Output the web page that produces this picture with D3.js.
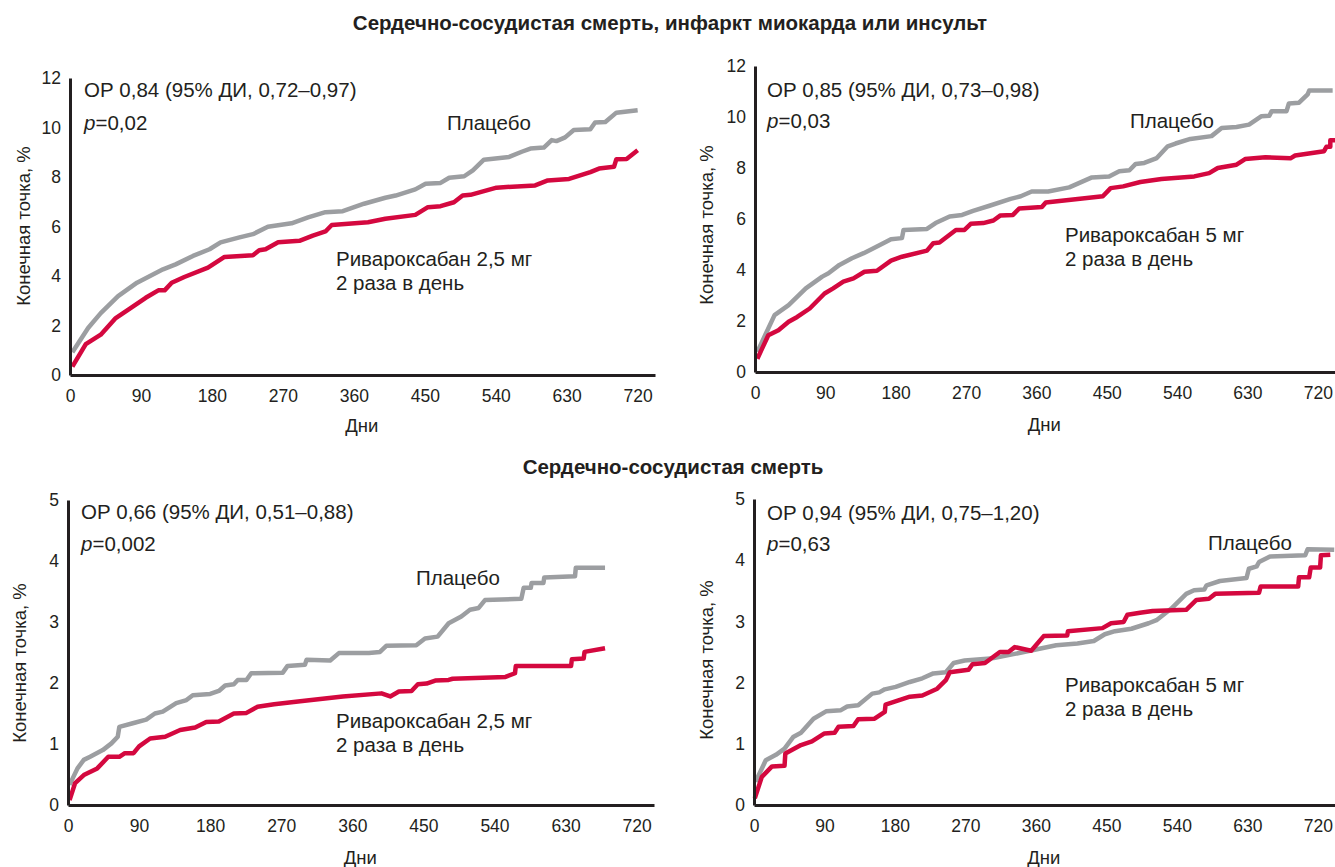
<!DOCTYPE html>
<html><head><meta charset="utf-8">
<script src="https://cdn.jsdelivr.net/npm/d3@7"></script>
<style>
html,body{margin:0;padding:0;background:#fff;}
svg{display:block;}
text{font-family:"Liberation Sans",Arial,sans-serif;fill:#231f20;}
</style></head><body>
<svg id="chart" width="1335" height="867"></svg>
<script>
// ---- Data ----
const dayTicks = [0, 90, 180, 270, 360, 450, 540, 630, 720];
const yTicksTop = [0, 2, 4, 6, 8, 10, 12];
const yTicksBottom = [0, 1, 2, 3, 4, 5];

const titleTop = "Сердечно-сосудистая смерть, инфаркт миокарда или инсульт";
const titleBottom = "Сердечно-сосудистая смерть";
const yLabel = "Конечная точка, %";
const xLabel = "Дни";
const placeboLabel = "Плацебо";
const riva25Label = ["Ривароксабан 2,5 мг", "2 раза в день"];
const riva5Label = ["Ривароксабан 5 мг", "2 раза в день"];
const hrLabels = ["ОР 0,84 (95% ДИ, 0,72–0,97)", "ОР 0,85 (95% ДИ, 0,73–0,98)", "ОР 0,66 (95% ДИ, 0,51–0,88)", "ОР 0,94 (95% ДИ, 0,75–1,20)"];
const pLabels = ["=0,02", "=0,03", "=0,002", "=0,63"];

// [day, percent]
const p1Placebo = [[3,0.92],[23,1.9],[39,2.5],[61,3.19],[85,3.73],[118,4.27],[134,4.47],[156,4.81],[177,5.08],[191,5.36],[215,5.56],[232,5.69],[251,5.99],[281,6.13],[302,6.37],[324,6.58],[346,6.62],[373,6.92],[400,7.16],[413,7.25],[438,7.5],[451,7.73],[470,7.76],[481,7.97],[500,8.03],[511,8.27],[525,8.7],[557,8.81],[573,9.02],[584,9.15],[601,9.19],[611,9.49],[617,9.45],[628,9.6],[639,9.9],[660,9.93],[666,10.2],[679,10.22],[693,10.6],[720,10.7]];
const p1Riva = [[3,0.34],[20,1.25],[39,1.63],[58,2.3],[74,2.64],[96,3.12],[112,3.42],[120,3.42],[129,3.73],[145,3.96],[175,4.34],[196,4.77],[232,4.84],[240,5.04],[248,5.08],[264,5.36],[291,5.42],[308,5.63],[324,5.8],[332,6.06],[378,6.17],[400,6.31],[438,6.47],[454,6.78],[470,6.82],[487,6.98],[498,7.25],[508,7.28],[541,7.57],[590,7.66],[606,7.86],[633,7.92],[660,8.2],[671,8.34],[690,8.41],[693,8.72],[706,8.73],[720,9.08]];
const p2Placebo = [[3,0.79],[25,2.23],[43,2.62],[65,3.28],[86,3.74],[94,3.87],[108,4.2],[124,4.46],[139,4.66],[156,4.92],[174,5.21],[188,5.25],[190,5.57],[220,5.61],[231,5.84],[249,6.1],[265,6.16],[279,6.32],[300,6.52],[327,6.79],[340,6.89],[354,7.08],[375,7.08],[402,7.24],[431,7.63],[453,7.67],[466,7.87],[479,7.91],[487,8.16],[498,8.2],[514,8.39],[528,8.85],[538,8.96],[557,9.14],[584,9.25],[597,9.57],[616,9.61],[632,9.7],[648,10.03],[658,10.05],[661,10.23],[680,10.23],[683,10.53],[696,10.56],[707,10.89],[709,11.04],[739,11.04]];
const p2Riva = [[3,0.52],[17,1.44],[30,1.64],[43,1.97],[54,2.16],[70,2.49],[89,3.08],[100,3.28],[113,3.54],[126,3.67],[140,3.93],[156,3.97],[174,4.37],[188,4.52],[220,4.76],[228,5.05],[236,5.08],[257,5.57],[268,5.57],[276,5.81],[292,5.84],[305,5.94],[314,6.14],[330,6.16],[338,6.41],[367,6.47],[372,6.65],[445,6.89],[455,7.21],[471,7.28],[493,7.45],[520,7.57],[562,7.67],[581,7.8],[592,8.0],[616,8.13],[627,8.35],[653,8.42],[685,8.38],[691,8.49],[728,8.66],[731,8.83],[736,8.83],[736,9.09],[742,9.09]];
const p3Placebo = [[2,0.33],[12,0.6],[20,0.74],[28,0.79],[44,0.9],[55,1.01],[63,1.12],[65,1.28],[82,1.34],[99,1.40],[110,1.50],[120,1.53],[137,1.67],[150,1.72],[158,1.8],[180,1.82],[191,1.87],[199,1.96],[210,1.98],[215,2.05],[226,2.05],[232,2.16],[272,2.17],[278,2.28],[300,2.3],[302,2.38],[332,2.37],[343,2.49],[381,2.49],[395,2.51],[403,2.61],[441,2.62],[452,2.73],[468,2.76],[482,2.98],[498,3.09],[509,3.2],[520,3.23],[528,3.36],[574,3.38],[577,3.56],[586,3.56],[587,3.64],[602,3.64],[603,3.73],[642,3.75],[643,3.89],[680,3.89]];
const p3Riva = [[2,0.08],[9,0.36],[20,0.49],[37,0.6],[51,0.79],[65,0.79],[72,0.85],[83,0.85],[90,0.96],[104,1.09],[123,1.12],[142,1.23],[161,1.27],[175,1.36],[191,1.37],[210,1.5],[226,1.51],[240,1.61],[261,1.65],[294,1.7],[348,1.78],[397,1.83],[408,1.78],[419,1.86],[435,1.87],[443,1.98],[454,1.99],[465,2.04],[482,2.05],[487,2.07],[554,2.1],[566,2.16],[567,2.28],[637,2.28],[638,2.39],[653,2.40],[654,2.51],[680,2.57]];
const p4Placebo = [[2,0.38],[15,0.73],[28,0.82],[39,0.92],[50,1.11],[60,1.18],[76,1.41],[92,1.53],[111,1.55],[119,1.61],[133,1.63],[151,1.82],[160,1.84],[167,1.89],[181,1.93],[199,2.01],[215,2.07],[229,2.15],[245,2.17],[255,2.32],[269,2.36],[306,2.40],[333,2.47],[360,2.54],[386,2.61],[413,2.64],[434,2.68],[448,2.79],[461,2.84],[482,2.88],[504,2.97],[514,3.02],[533,3.21],[552,3.45],[562,3.51],[575,3.52],[578,3.59],[595,3.66],[629,3.71],[632,3.86],[642,3.9],[645,3.97],[659,4.06],[704,4.08],[707,4.18],[741,4.17]];
const p4Riva = [[1,0.11],[10,0.46],[23,0.63],[39,0.64],[40,0.84],[60,0.98],[74,1.04],[90,1.17],[103,1.18],[108,1.28],[127,1.29],[133,1.4],[154,1.41],[167,1.52],[168,1.64],[199,1.77],[215,1.79],[234,1.90],[245,2.04],[250,2.17],[274,2.21],[279,2.30],[295,2.32],[314,2.5],[325,2.5],[333,2.58],[354,2.52],[370,2.76],[400,2.77],[401,2.84],[445,2.89],[456,2.97],[472,2.99],[477,3.11],[493,3.14],[509,3.17],[552,3.19],[565,3.35],[581,3.37],[589,3.45],[645,3.47],[647,3.57],[695,3.57],[696,3.72],[709,3.72],[711,3.88],[723,3.88],[724,4.08],[736,4.09]];

// ---- Layout ----
const GREY = "#9c9ea1", RED = "#d4083f", INK = "#231f20";
const FONT = '"Liberation Sans",Arial,sans-serif';
const panels = [
  {x0:70, x1:655, y0:375, y1:78, ymax:12, yt:yTicksTop, placebo:p1Placebo, riva:p1Riva, hr:hrLabels[0], p:pLabels[0],
   hrPos:[84,89], pPos:[84,122], plPos:[447,122], rvPos:[336,258], rv:riva25Label, ylabX:23, ylabY:226, xlabY:425},
  {x0:755, x1:1335, y0:372, y1:66, ymax:12, yt:yTicksTop, placebo:p2Placebo, riva:p2Riva, hr:hrLabels[1], p:pLabels[1],
   hrPos:[767,89], pPos:[767,120], plPos:[1130,120], rvPos:[1065,234], rv:riva5Label, ylabX:706, ylabY:225, xlabY:424},
  {x0:68, x1:654, y0:805, y1:500, ymax:5, yt:yTicksBottom, placebo:p3Placebo, riva:p3Riva, hr:hrLabels[2], p:pLabels[2],
   hrPos:[81,511], pPos:[81,543], plPos:[416,577], rvPos:[336,720], rv:riva25Label, ylabX:19, ylabY:663, xlabY:857},
  {x0:754, x1:1335, y0:805, y1:499, ymax:5, yt:yTicksBottom, placebo:p4Placebo, riva:p4Riva, hr:hrLabels[3], p:pLabels[3],
   hrPos:[767,512], pPos:[767,543], plPos:[1208,542], rvPos:[1065,684], rv:riva5Label, ylabX:706, ylabY:660, xlabY:857}
];

const svg = d3.select("#chart");

svg.append("text").attr("x", 670).attr("y", 22).attr("text-anchor","middle").attr("dominant-baseline","central")
  .style("font-weight","bold").style("font-size","20.5px").text(titleTop);
svg.append("text").attr("x", 673).attr("y", 466).attr("text-anchor","middle").attr("dominant-baseline","central")
  .style("font-weight","bold").style("font-size","20.5px").text(titleBottom);

panels.forEach(P => {
  const g = svg.append("g");
  const x = d3.scaleLinear().domain([0, 742]).range([P.x0, P.x1]);
  const y = d3.scaleLinear().domain([0, P.ymax]).range([P.y0, P.y1]);

  const line = d3.line().x(d => x(d[0])).y(d => y(d[1]));
  g.append("path").datum(P.placebo).attr("d", line).attr("fill","none").attr("stroke",GREY)
    .attr("stroke-width",4.5).attr("stroke-linejoin","round");
  g.append("path").datum(P.riva).attr("d", line).attr("fill","none").attr("stroke",RED)
    .attr("stroke-width",4.5).attr("stroke-linejoin","round");

  const xa = g.append("g").attr("transform",`translate(0,${P.y0})`)
    .call(d3.axisBottom(x).tickValues(dayTicks).tickFormat(d3.format("d")).tickSize(0).tickPadding(15).tickSizeOuter(0));
  xa.select(".domain").attr("stroke",INK).attr("stroke-width",3);
  xa.selectAll("text").style("font-size","17.5px").style("font-family",FONT).attr("fill",INK);

  const ya = g.append("g").attr("transform",`translate(${P.x0},0)`)
    .call(d3.axisLeft(y).tickValues(P.yt).tickFormat(d3.format("d")).tickSize(0).tickPadding(9).tickSizeOuter(0));
  ya.select(".domain").attr("stroke",INK).attr("stroke-width",3);
  ya.selectAll("text").style("font-size","17.5px").style("font-family",FONT).attr("fill",INK);

  g.append("text").attr("transform",`translate(${P.ylabX},${P.ylabY}) rotate(-90)`).attr("text-anchor","middle")
    .attr("dominant-baseline","central").style("font-size","18.5px").text(yLabel);
  g.append("text").attr("x",(P.x0 + x(720))/2 + 8).attr("y",P.xlabY).attr("text-anchor","middle")
    .attr("dominant-baseline","central").style("font-size","18.5px").text(xLabel);

  g.append("text").attr("x",P.hrPos[0]).attr("y",P.hrPos[1]).attr("dominant-baseline","central")
    .style("font-size","20.5px").text(P.hr);
  const pt = g.append("text").attr("x",P.pPos[0]).attr("y",P.pPos[1]).attr("dominant-baseline","central").style("font-size","20.5px");
  pt.append("tspan").style("font-style","italic").text("p");
  pt.append("tspan").text(P.p);

  g.append("text").attr("x",P.plPos[0]).attr("y",P.plPos[1]).attr("dominant-baseline","central")
    .style("font-size","20.5px").text(placeboLabel);
  P.rv.forEach((t,i) => {
    g.append("text").attr("x",P.rvPos[0]).attr("y",P.rvPos[1] + i*24.5).attr("dominant-baseline","central")
      .style("font-size","20.5px").text(t);
  });
});
</script>
</body></html>
